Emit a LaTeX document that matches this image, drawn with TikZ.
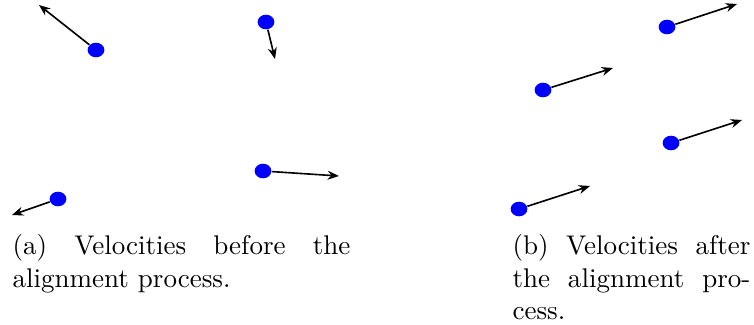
\documentclass[tikz,border=0pt]{standalone}
\usepackage{tikz}
\usetikzlibrary{arrows.meta,positioning,shapes.geometric}

\begin{document}
\begin{tikzpicture}[
  x=0.37pt, y=-0.37pt,
  agent/.style={ellipse,fill=blue,draw=none,inner sep=0pt,
                minimum width=6.2pt,minimum height=5.4pt},
  vel/.style={-{Stealth[length=4.2pt,width=3.3pt]},line width=0.6pt,black},
  subcap/.style={anchor=north west,inner sep=0pt,align=justify,
                 font=\normalsize}
]
\useasboundingbox (0,0) rectangle (754,324);

% (a) before alignment
\node[agent] (a1) at (96,50) {};
\node[agent] (a2) at (266,22) {};
\node[agent] (a3) at (263,171) {};
\node[agent] (a4) at (58,199) {};
\coordinate (ta1) at (39,5);
\coordinate (ta2) at (275,59);
\coordinate (ta3) at (339,176);
\coordinate (ta4) at (12,215);
\draw[vel] (a1) -- (ta1);
\draw[vel] (a2) -- (ta2);
\draw[vel] (a3) -- (ta3);
\draw[vel] (a4) -- (ta4);

% (b) after alignment
\node[agent] (b1) at (667,27) {};
\node[agent] (b2) at (543,90) {};
\node[agent] (b3) at (671,143) {};
\node[agent] (b4) at (519,209) {};
\coordinate (tb1) at (737,4);
\coordinate (tb2) at (613,68);
\coordinate (tb3) at (742,120);
\coordinate (tb4) at (590,186);
\draw[vel] (b1) -- (tb1);
\draw[vel] (b2) -- (tb2);
\draw[vel] (b3) -- (tb3);
\draw[vel] (b4) -- (tb4);

% captions
\node[subcap,text width=125pt] (capa) at (12,234)
  {(a) Velocities before the\linebreak alignment process.};
\node[subcap,text width=88pt] (capb) at (512,234)
  {(b) Velocities after\linebreak the alignment pro-\linebreak cess.};
\end{tikzpicture}
\end{document}
